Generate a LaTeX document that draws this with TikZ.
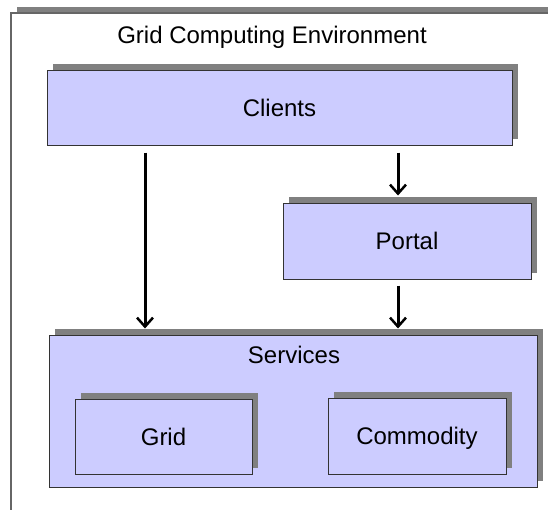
\documentclass[tikz,border=0pt]{standalone}
\usepackage{fontspec}
\setmainfont{Liberation Sans}
\usetikzlibrary{arrows.meta,shadows}
\definecolor{boxfill}{HTML}{CCCCFF}
\definecolor{shade}{HTML}{808080}
\definecolor{edge}{HTML}{333333}
\tikzset{
  x=1pt, y=-1pt,
  label text/.style={font=\fontsize{24}{28}\selectfont, text=black, inner sep=0pt,
    text height=17.2pt, text depth=0pt},
  shadowed/.style={drop shadow={shadow xshift=6pt, shadow yshift=6pt, opacity=1, fill=shade}},
  block/.style={label text, draw=edge, line width=1pt, fill=boxfill, shadowed},
  link/.style={line width=3pt, -{Straight Barb[length=9pt,width=16pt,line width=2.5pt]}}
}
\begin{document}
\begin{tikzpicture}
\useasboundingbox (0,0) rectangle (548,509);
% outer frame, running off the page on the right and bottom
\begin{scope}
\clip (0,0) rectangle (548,509);
\path[draw=shade!80!black, line width=1.5pt, fill=white, shadowed] (11,13) rectangle (570,530);
\end{scope}
\node[label text] (title) at (272,34.5) {Grid Computing Environment};

\node[block, minimum width=465pt, minimum height=75pt] (clients) at (279.5,107.5) {Clients};
\node[block, minimum width=248pt, minimum height=76pt] (portal) at (407,241) {Portal};
\node[block, minimum width=488pt, minimum height=152pt] (services) at (293,411) {};
\node[label text] (svclabel) at (294,355) {Services};
\node[block, minimum width=177pt, minimum height=75pt] (grid) at (163.5,436.5) {Grid};
\node[block, minimum width=178pt, minimum height=76pt] (commodity) at (417,436) {Commodity};

\coordinate (lx) at (145,0);
\coordinate (rx) at (398,0);
\draw[link, shorten <=7pt, shorten >=6pt] (lx |- clients.south) -- (lx |- services.north);
\draw[link, shorten <=7pt, shorten >=7pt] (rx |- clients.south) -- (rx |- portal.north);
\draw[link, shorten <=6pt, shorten >=6pt] (rx |- portal.south) -- (rx |- services.north);
\end{tikzpicture}
\end{document}
